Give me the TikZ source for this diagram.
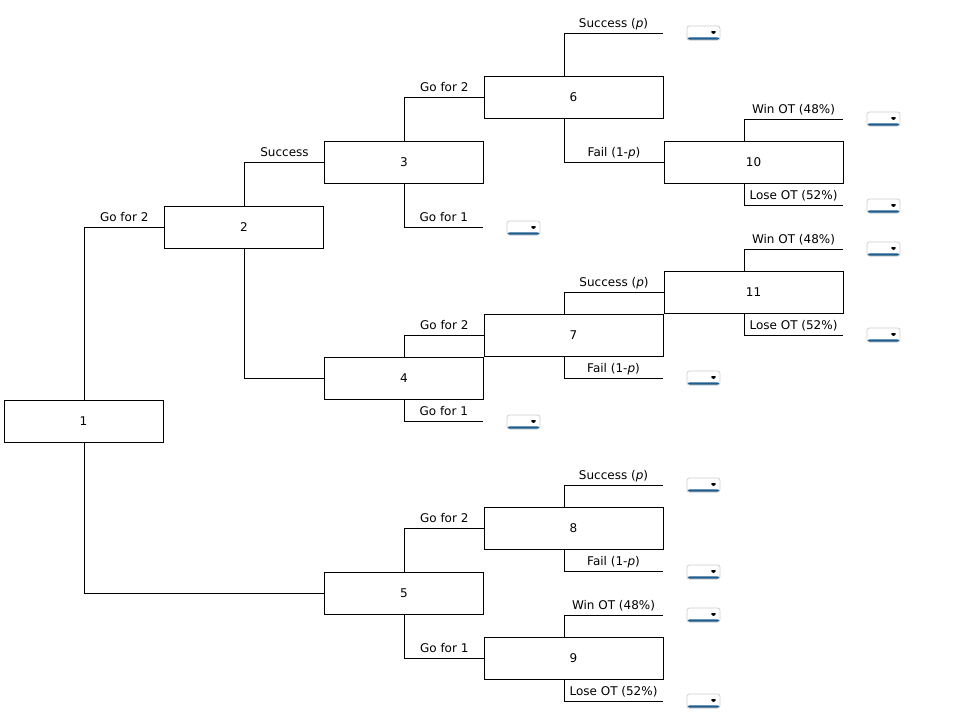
\documentclass[tikz,border=0pt]{standalone}
\usepackage{fontspec}
\setmainfont{DejaVu Sans}
\definecolor{ddblue}{HTML}{1F5F8F}
\begin{document}
\begin{tikzpicture}[x=1pt,y=-1pt,
  every node/.style={font=\fontsize{12}{14}\selectfont},
  box/.style={draw, line width=1pt, inner sep=0, outer sep=0, minimum height=42pt},
  sbox/.style={box, minimum width=159pt},
  wbox/.style={box, minimum width=179pt},
  conn/.style={line width=1pt},
  lbl/.style={anchor=base, yshift=6pt, inner sep=0},
  dd/.style={draw=gray!40, fill=white, rounded corners=2.5pt, minimum width=33pt,
    minimum height=14pt, inner sep=0, line width=0.7pt,
    path picture={
      \fill[black] ([xshift=-10pt,yshift=2pt]path picture bounding box.east) -- ++(7pt,0) -- ++(-3.5pt,-4pt) -- cycle;
      \fill[ddblue] (path picture bounding box.south west) rectangle ([yshift=2.6pt]path picture bounding box.south east);}}
]
\useasboundingbox[fill=white] (0,0) rectangle (955,723);

% boxes
\node[sbox] (n1) at (83.5,421) {1};
\node[sbox] (n2) at (244,227) {2};
\node[sbox] (n3) at (404,162) {3};
\node[sbox] (n4) at (404,378) {4};
\node[sbox] (n5) at (404,593) {5};
\node[wbox] (n6) at (573.5,97.5) {6};
\node[wbox] (n7) at (573.5,335) {7};
\node[wbox] (n8) at (573.5,528) {8};
\node[wbox] (n9) at (573.5,658) {9};
\node[wbox] (n10) at (753.5,162) {10};
\node[wbox] (n11) at (753.5,292) {11};

% leaf ends
\coordinate (e3b) at (483,227);
\coordinate (e4b) at (483,421);
\coordinate (e6a) at (663,33);
\coordinate (e7b) at (663,378);
\coordinate (e8a) at (663,485);
\coordinate (e8b) at (663,571);
\coordinate (e9a) at (663,615);
\coordinate (e9b) at (663,701);
\coordinate (e10a) at (843,119);
\coordinate (e10b) at (843,205);
\coordinate (e11a) at (843,249);
\coordinate (e11b) at (843,335);

% connectors
\draw[conn] ([xshift=80pt]n1.north west) |- node[lbl,pos=0.75]{Go for 2} (n2.west);
\draw[conn] ([xshift=80pt]n1.south west) |- (n5.west);
\draw[conn] ([xshift=80pt]n2.north west) |- node[lbl,pos=0.75]{Success} (n3.west);
\draw[conn] ([xshift=80pt]n2.south west) |- (n4.west);
\draw[conn] ([xshift=80pt]n3.north west) |- node[lbl,pos=0.75]{Go for 2} (n6.west);
\draw[conn] ([xshift=80pt]n3.south west) |- node[lbl,pos=0.75]{Go for 1} (e3b);
\draw[conn] ([xshift=80pt]n4.north west) |- node[lbl,pos=0.75]{Go for 2} (n7.west);
\draw[conn] ([xshift=80pt]n4.south west) |- node[lbl,pos=0.75]{Go for 1} (e4b);
\draw[conn] ([xshift=80pt]n5.north west) |- node[lbl,pos=0.75]{Go for 2} (n8.west);
\draw[conn] ([xshift=80pt]n5.south west) |- node[lbl,pos=0.75]{Go for 1} (n9.west);
\draw[conn] ([xshift=80pt]n6.north west) |- node[lbl,pos=0.75]{Success (\textit{p})} (e6a);
\draw[conn] ([xshift=80pt]n6.south west) |- node[lbl,pos=0.75]{Fail (1-\textit{p})} (n10.west);
\draw[conn] ([xshift=80pt]n7.north west) |- node[lbl,pos=0.75]{Success (\textit{p})} (n11.west);
\draw[conn] ([xshift=80pt]n7.south west) |- node[lbl,pos=0.75]{Fail (1-\textit{p})} (e7b);
\draw[conn] ([xshift=80pt]n8.north west) |- node[lbl,pos=0.75]{Success (\textit{p})} (e8a);
\draw[conn] ([xshift=80pt]n8.south west) |- node[lbl,pos=0.75]{Fail (1-\textit{p})} (e8b);
\draw[conn] ([xshift=80pt]n9.north west) |- node[lbl,pos=0.75]{Win OT (48\%)} (e9a);
\draw[conn] ([xshift=80pt]n9.south west) |- node[lbl,pos=0.75]{Lose OT (52\%)} (e9b);
\draw[conn] ([xshift=80pt]n10.north west) |- node[lbl,pos=0.75]{Win OT (48\%)} (e10a);
\draw[conn] ([xshift=80pt]n10.south west) |- node[lbl,pos=0.75]{Lose OT (52\%)} (e10b);
\draw[conn] ([xshift=80pt]n11.north west) |- node[lbl,pos=0.75]{Win OT (48\%)} (e11a);
\draw[conn] ([xshift=80pt]n11.south west) |- node[lbl,pos=0.75]{Lose OT (52\%)} (e11b);

% dropdowns
\node[dd] (d1) at (523.5,228) {};
\node[dd] (d2) at (523.5,422) {};
\node[dd] (d3) at (703.5,33) {};
\node[dd] (d4) at (703.5,378) {};
\node[dd] (d5) at (703.5,485) {};
\node[dd] (d6) at (703.5,572) {};
\node[dd] (d7) at (703.5,615) {};
\node[dd] (d8) at (703.5,701) {};
\node[dd] (d9) at (883.5,119) {};
\node[dd] (d10) at (883.5,206) {};
\node[dd] (d11) at (883.5,249) {};
\node[dd] (d12) at (883.5,335) {};
\end{tikzpicture}
\end{document}
